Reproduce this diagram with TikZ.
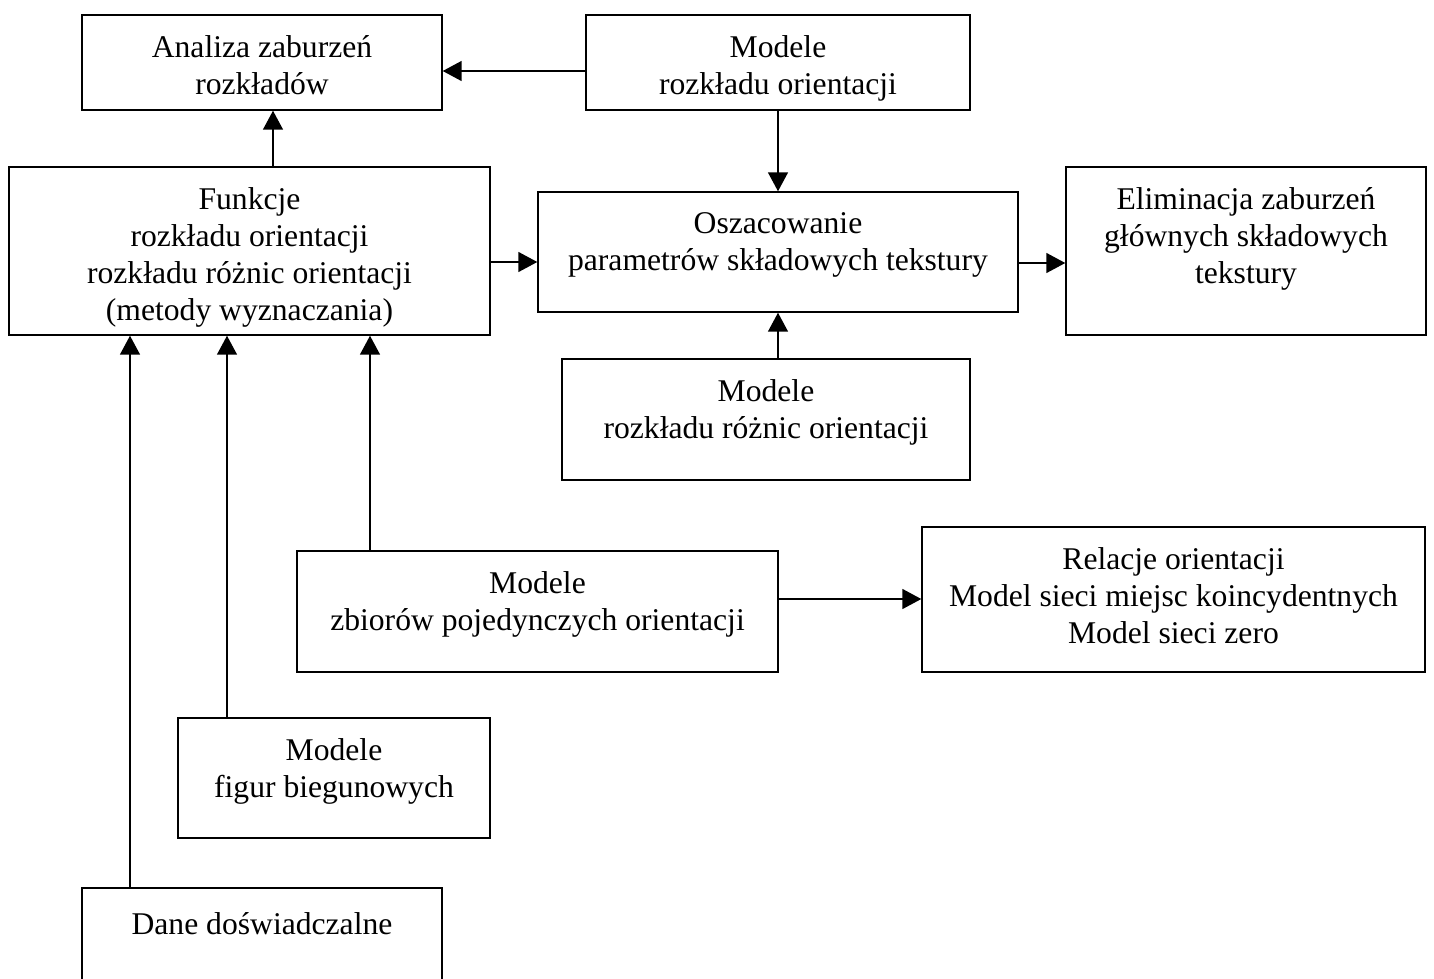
\documentclass[tikz,border=0pt]{standalone}
\usepackage{fontspec}
\setmainfont{Liberation Serif}
\usetikzlibrary{arrows.meta}

\tikzset{
  box/.style={draw, line width=0.85pt, rectangle, inner sep=0pt},
  txt/.style={align=center, inner sep=0pt, anchor=north, font=\fontsize{18}{21}\selectfont, execute at begin node=\strut},
  arr/.style={line width=0.85pt, -{Triangle[length=0.38cm,width=0.4cm]}}
}

\begin{document}
\begin{tikzpicture}[x=0.02cm, y=-0.02cm]
% Picture area (the lowest box runs off the bottom edge)
\clip (0,0) rectangle (1434,978);

% Boxes
\node[box, minimum width=7.2cm, minimum height=1.9cm] (analiza) at (262,62.5) {};
\node[box, minimum width=7.68cm, minimum height=1.9cm] (modOri) at (778,62.5) {};
\node[box, minimum width=9.62cm, minimum height=3.36cm] (funkcje) at (249.5,251) {};
\node[box, minimum width=9.6cm, minimum height=2.4cm] (oszac) at (778,252) {};
\node[box, minimum width=7.2cm, minimum height=3.36cm] (elim) at (1246,251) {};
\node[box, minimum width=8.16cm, minimum height=2.42cm] (modRoz) at (766,419.5) {};
\node[box, minimum width=9.62cm, minimum height=2.42cm] (zbiory) at (537.5,611.5) {};
\node[box, minimum width=10.06cm, minimum height=2.9cm] (relacje) at (1173.5,599.5) {};
\node[box, minimum width=6.24cm, minimum height=2.4cm] (figur) at (334,778) {};
\node[box, minimum width=7.2cm, minimum height=2.6cm] (dane) at (262,953) {};

% Texts, hung from the top edge
\node[txt] (analiza-t) at ([yshift=-0.42cm]analiza.north) {Analiza zaburzeń\\rozkładów};
\node[txt] (modOri-t) at ([yshift=-0.42cm]modOri.north) {Modele\\rozkładu orientacji};
\node[txt] (funkcje-t) at ([yshift=-0.42cm]funkcje.north) {Funkcje\\rozkładu orientacji\\rozkładu różnic orientacji\\(metody wyznaczania)};
\node[txt] (oszac-t) at ([yshift=-0.42cm]oszac.north) {Oszacowanie\\parametrów składowych tekstury};
\node[txt] (elim-t) at ([yshift=-0.42cm]elim.north) {Eliminacja zaburzeń\\głównych składowych\\tekstury};
\node[txt] (modRoz-t) at ([yshift=-0.42cm]modRoz.north) {Modele\\rozkładu różnic orientacji};
\node[txt] (zbiory-t) at ([yshift=-0.42cm]zbiory.north) {Modele\\zbiorów pojedynczych orientacji};
\node[txt] (relacje-t) at ([yshift=-0.42cm]relacje.north) {Relacje orientacji\\Model sieci miejsc koincydentnych\\Model sieci zero};
\node[txt] (figur-t) at ([yshift=-0.42cm]figur.north) {Modele\\figur biegunowych};
\node[txt] (dane-t) at ([yshift=-0.42cm]dane.north) {Dane doświadczalne};

% Entry points on the lower edge of the Funkcje box
\coordinate (fz) at (370,0);
\coordinate (ff) at (227,0);
\coordinate (fd) at (130,0);

% Arrows
\draw[arr] ([yshift=-0.17cm]modOri.west) -- ([yshift=-0.17cm]modOri.west -| analiza.east);
\draw[arr] ([xshift=0.47cm]funkcje.north) -- ([xshift=0.47cm]funkcje.north |- analiza.south);
\draw[arr] (modOri.south) -- (oszac.north);
\draw[arr] ([yshift=-0.22cm]funkcje.east) -- ([yshift=-0.22cm]funkcje.east -| oszac.west);
\draw[arr] ([yshift=-0.22cm]oszac.east) -- ([yshift=-0.22cm]oszac.east -| elim.west);
\draw[arr] (modRoz.north -| oszac.south) -- (oszac.south);
\draw[arr] (zbiory.north -| fz) -- (funkcje.south -| fz);
\draw[arr] (figur.north -| ff) -- (funkcje.south -| ff);
\draw[arr] (dane.north -| fd) -- (funkcje.south -| fd);
\draw[arr] ([yshift=0.25cm]zbiory.east) -- ([yshift=0.25cm]zbiory.east -| relacje.west);
\end{tikzpicture}
\end{document}
